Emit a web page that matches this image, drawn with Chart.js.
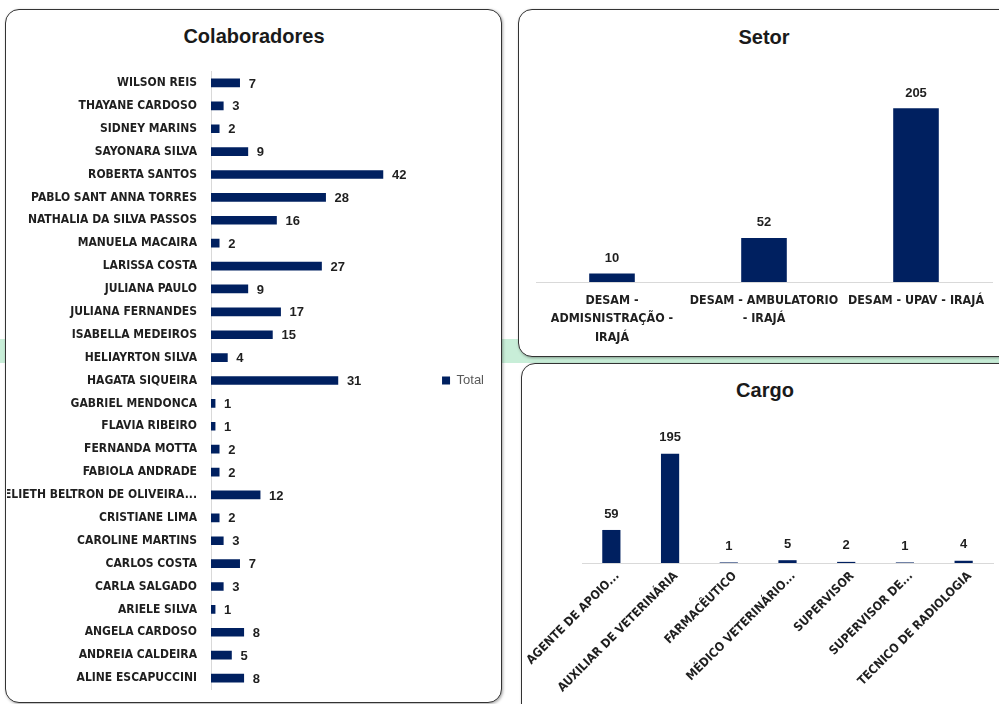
<!DOCTYPE html>
<html>
<head>
<meta charset="utf-8">
<script src="https://cdn.jsdelivr.net/npm/chart.js@4.4.1/dist/chart.umd.min.js"></script>
<style>
  body { margin: 0; width: 999px; height: 704px; overflow: hidden; background: #fff; position: relative; font-family: "Liberation Sans", Arial, sans-serif; }
  .band { position: absolute; left: 0; top: 339px; width: 999px; height: 24px; background: #c8eed8; }
  .panel { position: absolute; background: #fff; border: 1.5px solid #333; border-radius: 14px; box-shadow: 1px 1px 3px rgba(0,0,0,0.35); }
  .title { position: absolute; font-weight: bold; font-size: 20px; color: #1a1a1a; transform: translate(-50%, -50%); white-space: nowrap; }
  canvas { position: absolute; }
</style>
</head>
<body>
<div class="band"></div>
<div class="panel" style="left:5px; top:9px; width:495px; height:692px;"></div>
<div class="panel" style="left:518px; top:9px; width:500px; height:346px;"></div>
<div class="panel" style="left:521px; top:363px; width:500px; height:360px;"></div>

<div class="title" style="left:254px; top:36px;">Colaboradores</div>
<div class="title" style="left:764px; top:37px;">Setor</div>
<div class="title" style="left:765px; top:390px;">Cargo</div>

<canvas id="colab" width="494" height="690" style="left:7px; top:11px;"></canvas>
<canvas id="setor" width="480" height="345" style="left:519px; top:11px;"></canvas>
<canvas id="cargo" width="477" height="340" style="left:522px; top:364px;"></canvas>

<script>
// values
const colaboradores = [
  "WILSON REIS", "THAYANE CARDOSO", "SIDNEY MARINS", "SAYONARA SILVA", "ROBERTA SANTOS",
  "PABLO SANT ANNA TORRES", "NATHALIA DA SILVA PASSOS", "MANUELA MACAIRA", "LARISSA COSTA",
  "JULIANA PAULO", "JULIANA FERNANDES", "ISABELLA MEDEIROS", "HELIAYRTON SILVA", "HAGATA SIQUEIRA",
  "GABRIEL MENDONCA", "FLAVIA RIBEIRO", "FERNANDA MOTTA", "FABIOLA ANDRADE",
  "ELIETH BELTRON DE OLIVEIRA...", "CRISTIANE LIMA", "CAROLINE MARTINS", "CARLOS COSTA",
  "CARLA SALGADO", "ARIELE SILVA", "ANGELA CARDOSO", "ANDREIA CALDEIRA", "ALINE ESCAPUCCINI"
];
const totalColab = [7, 3, 2, 9, 42, 28, 16, 2, 27, 9, 17, 15, 4, 31, 1, 1, 2, 2, 12, 2, 3, 7, 3, 1, 8, 5, 8];

const setores = [
  ["DESAM -", "ADMISNISTRAÇÃO -", "IRAJÁ"],
  ["DESAM - AMBULATORIO", "- IRAJÁ"],
  "DESAM - UPAV - IRAJÁ"
];
const totalSetor = [10, 52, 205];

const cargos = [
  "AGENTE DE APOIO...", "AUXILIAR DE VETERINÁRIA", "FARMACÊUTICO", "MÉDICO VETERINÁRIO...",
  "SUPERVISOR", "SUPERVISOR DE...", "TECNICO DE RADIOLOGIA"
];
const totalCargo = [59, 195, 1, 5, 2, 1, 4];

const NAVY = "#002060";
const TEXT = "#1f1f1f";
const AXIS = "#d9d9d9";
const NARROW = "'DejaVu Sans Condensed', 'Liberation Sans Narrow', sans-serif";
const WIDE = "'Liberation Sans', Arial, sans-serif";

// draws the number next to / above each bar
const valueLabels = {
  id: "valueLabels",
  afterDatasetsDraw(chart, args, opts) {
    const ctx = chart.ctx;
    const meta = chart.getDatasetMeta(0);
    const values = chart.data.datasets[0].data;
    ctx.save();
    ctx.font = "bold 13px " + WIDE;
    ctx.fillStyle = TEXT;
    ctx.textBaseline = "middle";
    meta.data.forEach((bar, i) => {
      if (chart.options.indexAxis === "y") {
        ctx.textAlign = "left";
        ctx.fillText(values[i], bar.x + 9, bar.y + 1);
      } else {
        ctx.textAlign = "center";
        ctx.fillText(values[i], bar.x, bar.y - (opts.offset || 15));
      }
    });
    ctx.restore();
  }
};

// no extra padding from label overflow
function noPad(s) {
  s.paddingLeft = 0; s.paddingRight = 0; s.paddingTop = 0; s.paddingBottom = 0;
}

new Chart(document.getElementById("colab"), {
  type: "bar",
  data: {
    labels: colaboradores,
    datasets: [{ label: "Total", data: totalColab, backgroundColor: NAVY, barThickness: 8 }]
  },
  options: {
    indexAxis: "y",
    responsive: false,
    animation: false,
    layout: { padding: { top: 60.5, bottom: 11.5, left: 0, right: 7 } },
    plugins: {
      legend: {
        position: "right",
        labels: { boxWidth: 8, boxHeight: 8, padding: 10, color: "#595959", font: { family: WIDE, size: 13 } }
      },
      tooltip: { enabled: false },
      valueLabels: {}
    },
    scales: {
      x: { display: false, min: 0, max: 54 },
      y: {
        grid: { display: false, drawTicks: false },
        border: { color: AXIS },
        ticks: { autoSkip: false, padding: 14, color: TEXT, font: { family: NARROW, size: 12, weight: "bold" } },
        afterFit(s) { s.width = 204; noPad(s); }
      }
    }
  },
  plugins: [valueLabels]
});

new Chart(document.getElementById("setor"), {
  type: "bar",
  data: {
    labels: setores,
    datasets: [{ label: "Total", data: totalSetor, backgroundColor: NAVY, barPercentage: 0.3, categoryPercentage: 1 }]
  },
  options: {
    responsive: false,
    animation: false,
    layout: { padding: { top: 59, bottom: 0, left: 17, right: 7 } },
    plugins: { legend: { display: false }, tooltip: { enabled: false }, valueLabels: { offset: 15 } },
    scales: {
      y: { display: false, min: 0, max: 250 },
      x: {
        grid: { display: false, drawTicks: false },
        border: { color: AXIS },
        ticks: { autoSkip: false, maxRotation: 0, padding: 9, color: TEXT, font: { family: NARROW, size: 12.4, weight: "bold", lineHeight: 1.5 } },
        afterFit(s) { s.height = 74; noPad(s); }
      }
    }
  },
  plugins: [valueLabels]
});

new Chart(document.getElementById("cargo"), {
  type: "bar",
  data: {
    labels: cargos,
    datasets: [{ label: "Total", data: totalCargo, backgroundColor: NAVY, barPercentage: 0.31, categoryPercentage: 1 }]
  },
  options: {
    responsive: false,
    animation: false,
    layout: { padding: { top: 59, bottom: 0, left: 60, right: 6 } },
    plugins: { legend: { display: false }, tooltip: { enabled: false }, valueLabels: { offset: 16 } },
    scales: {
      y: { display: false, min: 0, max: 250 },
      x: {
        grid: { display: false, drawTicks: false },
        border: { color: AXIS },
        ticks: { autoSkip: false, minRotation: 45, maxRotation: 45, padding: 6, labelOffset: 6, color: TEXT, font: { family: NARROW, size: 12.2, weight: "bold" } },
        afterFit(s) { s.height = 141; noPad(s); }
      }
    }
  },
  plugins: [valueLabels]
});
</script>
</body>
</html>
